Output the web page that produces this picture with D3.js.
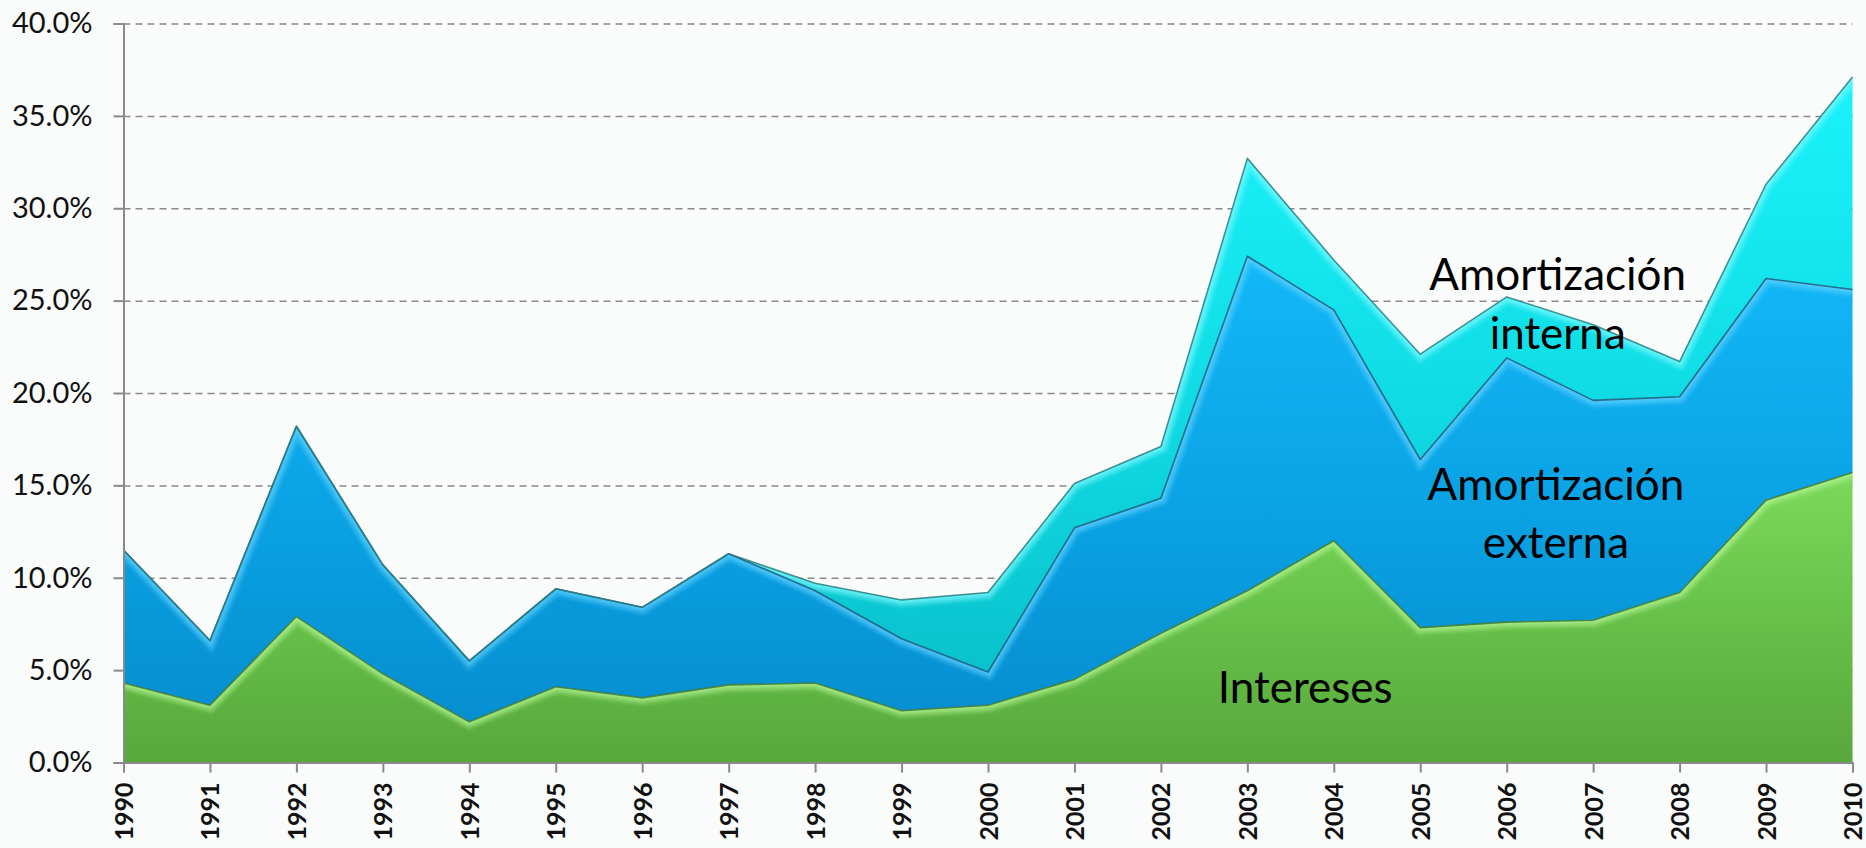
<!DOCTYPE html>
<html><head><meta charset="utf-8">
<script src="https://cdn.jsdelivr.net/npm/d3@7"></script>
<style>
html,body{margin:0;padding:0;background:#fafbfb;}
svg{display:block;}
</style>
</head><body>
<svg id="chart" width="1866" height="848"></svg>
<script>
// ---- data (percent of total) ----
const years = [1990,1991,1992,1993,1994,1995,1996,1997,1998,1999,2000,2001,2002,2003,2004,2005,2006,2007,2008,2009,2010];
const intereses    = [4.3,3.1,7.9,4.8,2.2,4.1,3.5,4.2,4.3,2.8,3.1,4.5,7.0,9.3,12.0,7.3,7.6,7.7,9.2,14.2,15.7];
const amortExterna = [7.2,3.5,10.3,5.9,3.3,5.3,4.9,7.1,5.0,3.9,1.8,8.2,7.3,18.1,12.5,9.1,14.3,11.9,10.6,12.0,9.9];
const amortInterna = [0,0,0,0,0,0,0,0,0.4,2.1,4.3,2.4,2.8,5.3,2.7,5.7,3.3,4.1,1.9,5.1,11.5];
const yTicks = [0,5,10,15,20,25,30,35,40];
const seriesKeys = ["intereses","externa","interna"];
const labelLines = [
  ["Intereses"],
  ["Amortización","externa"],
  ["Amortización","interna"]
];

// ---- layout / style ----
const W = 1866, H = 848;
const x = d3.scaleLinear().domain([1990,2010]).range([123.5,1852.5]);
const y = d3.scaleLinear().domain([0,40]).range([762.5,23.5]);

const styles = {
  intereses: {top:"#7cd95a", mid:"#66be48", bot:"#58a83b", hi:"#b4f592", edge:"#3d7a37"},
  externa:   {top:"#12b8f8", mid:"#0aa2e4", bot:"#068ed0", hi:"#5fd2ff", edge:"#1b5a7c"},
  interna:   {top:"#1af3fb", mid:"#10dbe4", bot:"#0ac2cc", hi:"#7ffaff", edge:"#2a8084"}
};
// label anchor positions in data space (year, percent) for baseline of first line
const labelPos = {
  intereses: {yr:2003.67, v:3.22, dy:0},
  externa:   {yr:2006.57, v:14.2, dy:58},
  interna:   {yr:2006.59, v:25.6, dy:59}
};

const table = years.map((yr,i)=>({year:yr, intereses:intereses[i], externa:amortExterna[i], interna:amortInterna[i]}));
const layers = d3.stack().keys(seriesKeys)(table);

const svg = d3.select("#chart");
const defs = svg.append("defs");

// gradients
seriesKeys.forEach(k=>{
  const s = styles[k];
  const g = defs.append("linearGradient").attr("id","grad-"+k)
    .attr("x1",0).attr("y1",0).attr("x2",0).attr("y2",1);
  g.append("stop").attr("offset","0%").attr("stop-color",s.top);
  g.append("stop").attr("offset","55%").attr("stop-color",s.mid);
  g.append("stop").attr("offset","100%").attr("stop-color",s.bot);
});
const blur = defs.append("filter").attr("id","soft").attr("x","-5%").attr("y","-5%").attr("width","110%").attr("height","110%");
blur.append("feGaussianBlur").attr("stdDeviation",1.6);

// gridlines
const gridG = svg.append("g").attr("transform",`translate(${x.range()[0]},0)`)
  .call(d3.axisLeft(y).tickValues(yTicks.filter(d=>d>0)).tickSize(-(x.range()[1]-x.range()[0])).tickFormat(""));
gridG.select(".domain").remove();
gridG.selectAll("line").attr("stroke","#8a8a8a").attr("stroke-width",1.5).attr("stroke-dasharray","7,5");

// areas
const area = d3.area().x(d=>x(d.data.year)).y0(d=>y(d[0])).y1(d=>y(d[1]));
const topLine = d3.line().x(d=>x(d.data.year)).y(d=>y(d[1]));

const areaG = svg.append("g");
layers.forEach(L=>{
  const k = L.key;
  defs.append("clipPath").attr("id","clip-"+k).append("path").attr("d",area(L));
  areaG.append("path").attr("d",area(L)).attr("fill",`url(#grad-${k})`);
});
// bevel highlights
layers.forEach(L=>{
  const k = L.key, s = styles[k];
  const g = areaG.append("g").attr("clip-path",`url(#clip-${k})`);
  g.append("path").attr("d",topLine(L)).attr("fill","none").attr("stroke",s.hi)
    .attr("stroke-width",14).attr("stroke-opacity",0.35).attr("filter","url(#soft)");
  g.append("path").attr("d",topLine(L)).attr("fill","none").attr("stroke",s.hi)
    .attr("stroke-width",7).attr("stroke-opacity",0.6).attr("filter","url(#soft)");
  g.append("line").attr("x1",x(2010)).attr("x2",x(2010)).attr("y1",0).attr("y2",H)
    .attr("stroke","#000").attr("stroke-opacity",0.25).attr("stroke-width",6).attr("filter","url(#soft)");
});
// bottom shading of first layer
areaG.append("g").attr("clip-path","url(#clip-intereses)")
  .append("line").attr("x1",x(1990)).attr("x2",x(2010)).attr("y1",y(0)).attr("y2",y(0))
  .attr("stroke","#2f5f2a").attr("stroke-opacity",0.45).attr("stroke-width",6).attr("filter","url(#soft)");
// dark edges
layers.forEach(L=>{
  const s = styles[L.key];
  areaG.append("path").attr("d",topLine(L)).attr("fill","none").attr("stroke",s.edge)
    .attr("stroke-width",1.6).attr("stroke-opacity",0.85).attr("stroke-linejoin","round");
});

// y axis
const yAxis = svg.append("g").attr("transform",`translate(${x.range()[0]},0)`)
  .call(d3.axisLeft(y).tickValues(yTicks).tickSize(10).tickPadding(21).tickFormat(d=>d.toFixed(1)+"%"));
yAxis.select(".domain").attr("stroke","#8a8a8a").attr("stroke-width",2);
yAxis.selectAll("line").attr("stroke","#8a8a8a").attr("stroke-width",2);
yAxis.selectAll("text").attr("font-family","Lato, 'Open Sans', sans-serif").attr("font-size",29).attr("fill","#111");

// x axis
const xAxis = svg.append("g").attr("transform",`translate(0,${y(0)})`)
  .call(d3.axisBottom(x).tickValues(years).tickSize(10).tickFormat(d3.format("d")));
xAxis.select(".domain").attr("stroke","#8a8a8a").attr("stroke-width",2);
xAxis.selectAll("line").attr("stroke","#8a8a8a").attr("stroke-width",2);
xAxis.selectAll("text")
  .attr("transform","rotate(-90)")
  .attr("x",-20).attr("y",0).attr("dy","0.36em")
  .attr("text-anchor","end")
  .attr("font-family","Lato, 'Liberation Sans', sans-serif").attr("font-weight","bold")
  .attr("font-size",25).attr("fill","#111");

// series labels
const labG = svg.append("g").attr("font-family","Lato, 'Open Sans', sans-serif").attr("font-size",44).attr("fill","#000").attr("text-anchor","middle");
seriesKeys.forEach((k,i)=>{
  const p = labelPos[k];
  const t = labG.append("text").attr("x",x(p.yr)).attr("y",y(p.v));
  labelLines[i].forEach((ln,j)=>{
    t.append("tspan").attr("x",x(p.yr)).attr("dy", j===0?0:p.dy).text(ln);
  });
});
</script>
</body></html>
